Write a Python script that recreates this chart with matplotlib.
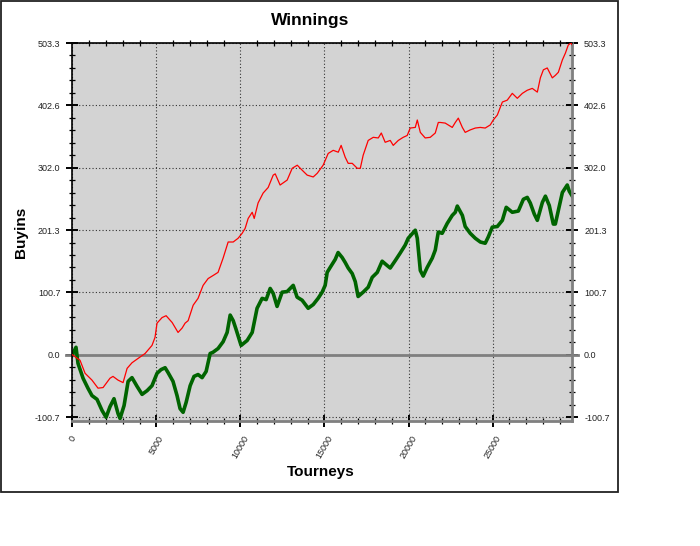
import numpy as np
import matplotlib
matplotlib.use('Agg')
import matplotlib.pyplot as plt
from matplotlib.patches import Rectangle

plt.rcParams['font.family'] = ['Liberation Sans', 'DejaVu Sans']

# red line (upper curve)
red_x = [0, 460, 760, 1170, 1530, 1830, 2240, 2420, 2720, 3020, 3260, 3550, 3910, 4330, 4740,
         4920, 5040, 5340, 5580, 5940, 6290, 6530, 6710, 6890, 7190, 7480, 7780, 8080, 8380, 8670,
         8970, 9270, 9570, 9860, 10100, 10280, 10460, 10700, 10820, 11050, 11350, 11650, 11950,
         12070, 12360, 12780, 13080, 13380, 13670, 13970, 14330, 14570, 14920, 15220, 15520, 15820,
         15990, 16230, 16410, 16650, 16950, 17130, 17300, 17600, 17900, 18200, 18380, 18610, 18910,
         19090, 19390, 19680, 19920, 20100, 20400, 20520, 20700, 20990, 21290, 21590, 21770, 21890,
         22180, 22360, 22600, 22780, 22960, 23200, 23370, 23670, 23970, 24270, 24560, 24860, 25040,
         25280, 25580, 25870, 26170, 26470, 26770, 27060, 27360, 27660, 27840, 28020, 28250, 28550,
         28730, 28910, 29150, 29330, 29500, 29650, 29740]
red_y = [0, -9, -30, -41, -54, -53, -38, -35, -41, -45, -22, -13, -6, 2, 15,
         28, 51, 60, 63, 52, 36, 43, 51, 55, 80, 91, 112, 123, 128, 133,
         156, 182, 182, 188, 196, 204, 220, 230, 220, 245, 261, 270, 290,
         292, 274, 282, 301, 306, 298, 290, 287, 293, 306, 325, 330, 327,
         338, 319, 309, 309, 301, 301, 322, 346, 351, 350, 358, 343, 346,
         338, 346, 351, 354, 366, 367, 379, 359, 350, 351, 358, 375, 375,
         374, 371, 367, 375, 382, 367, 359, 363, 366, 367, 366, 371, 379,
         387, 408, 411, 422, 414, 422, 427, 430, 424, 447, 460, 463, 447,
         451, 456, 476, 487, 500, 503.3, 500]

# green line (lower curve)
green_x = [0, 220, 340, 640, 930, 1170, 1470, 1770, 2010, 2240, 2480, 2720, 2840, 3080, 3320,
           3550, 3850, 4150, 4450, 4740, 5040, 5280, 5520, 5700, 5990, 6230, 6410, 6590, 6770,
           7010, 7240, 7480, 7720, 7960, 8200, 8370, 8670, 8970, 9210, 9390, 9570, 9740, 10040,
           10400, 10700, 10990, 11290, 11530, 11770, 11950, 12180, 12480, 12780, 13140, 13370,
           13670, 14030, 14330, 14620, 14860, 15040, 15160, 15340, 15640, 15810, 16050, 16230,
           16410, 16650, 16830, 17000, 17300, 17600, 17840, 18140, 18430, 18730, 18910, 19210,
           19500, 19800, 19980, 20400, 20520, 20700, 20870, 21110, 21410, 21590, 21770, 22000,
           22300, 22600, 22780, 22900, 23200, 23370, 23670, 23970, 24270, 24560, 24740, 24980,
           25280, 25580, 25810, 26170, 26530, 26830, 27060, 27240, 27480, 27660, 27960, 28140,
           28370, 28610, 28730, 28910, 29150, 29440, 29560, 29740]
green_y = [0, 12, -14, -38, -54, -66, -72, -90, -101, -84, -71, -95, -103, -82, -43,
           -37, -51, -64, -58, -50, -30, -24, -21, -29, -43, -66, -87, -93, -77,
           -50, -35, -32, -37, -27, 2, 4, 10, 21, 36, 64, 55, 41, 15,
           23, 36, 75, 91, 89, 107, 99, 78, 101, 102, 112, 93,
           88, 75, 81, 91, 101, 112, 133, 141, 154, 165, 157, 149,
           140, 131, 118, 94, 101, 109, 125, 133, 151, 144, 140, 152,
           164, 177, 188, 201, 188, 136, 127, 141, 156, 169, 198, 196,
           212, 225, 230, 240, 225, 207, 196, 188, 182, 180, 190, 206,
           207, 217, 238, 230, 232, 251, 254, 245, 227, 217, 246, 256,
           241, 211, 211, 233, 262, 274, 264, 256]

x_ticks = [0, 5000, 10000, 15000, 20000, 25000]
y_top = 503.3
y_ticks = y_top * np.arange(-1, 6) / 5

fig = plt.figure(figsize=(7, 5.46), dpi=100)
ax = fig.add_axes([72.3 / 700, 1 - 421 / 546, 500 / 700, 378 / 546])
ax.set_facecolor('#d3d3d3')

# grid + zero line
ax.grid(True, which='major', color='#333333', linestyle=(0, (1, 2)), linewidth=0.8)
ax.set_axisbelow(True)
ax.plot([-0.012, 1.012], [0, 0], transform=ax.get_yaxis_transform(),
        color='#7f7f7f', lw=2, clip_on=False, zorder=1.5)

ax.plot(red_x, red_y, color='#ff0000', lw=0.9, zorder=3)
ax.plot(green_x, green_y, color='#006400', lw=2.6, zorder=2.5)

ax.set_xlim(0, 29740)
ax.set_ylim(-107, y_top)

ax.set_xticks(x_ticks)
ax.set_xticklabels([str(t) for t in x_ticks], rotation=60, ha='center', va='top')
ax.set_xticks(np.arange(0, 29740, 1000), minor=True)
ax.set_yticks(y_ticks)
ax.set_yticklabels(['%.1f' % t for t in y_ticks])
ax.set_yticks(np.arange(y_ticks[0], y_top + 1, y_top / 25), minor=True)

ax.tick_params(which='major', direction='inout', length=9, width=1.4, labelsize=6.5,
               labelcolor='#222222', left=True, right=True, labelright=True,
               bottom=True, top=False, pad=4)
ax.tick_params(which='minor', direction='inout', length=5, width=0.9,
               left=True, right=True, bottom=True, top=True)
ax.tick_params(axis='x', which='major', pad=5)

for s in ['left', 'bottom', 'top']:
    ax.spines[s].set_linewidth(1.2)
ax.spines['right'].set_color('#808080')
ax.spines['right'].set_linewidth(2)
ax.spines['bottom'].set_color('#808080')
ax.spines['bottom'].set_linewidth(2)

# titles
fig.text(310 / 700, 1 - 20 / 546, 'Winnings', ha='center', va='center',
         fontsize=12.5, fontweight='bold')
fig.text(21 / 700, 1 - 232 / 546, 'Buyins', ha='center', va='center', rotation=90,
         fontsize=11, fontweight='bold')
fig.text(321 / 700, 1 - 472 / 546, 'Tourneys', ha='center', va='center',
         fontsize=11, fontweight='bold')

# outer frame
fig.patches.append(Rectangle((1 / 700, 1 - 492 / 546), 617 / 700, 491 / 546,
                             transform=fig.transFigure, fill=False,
                             edgecolor='#222222', lw=1.3))

fig.savefig('out.png', dpi=100)
